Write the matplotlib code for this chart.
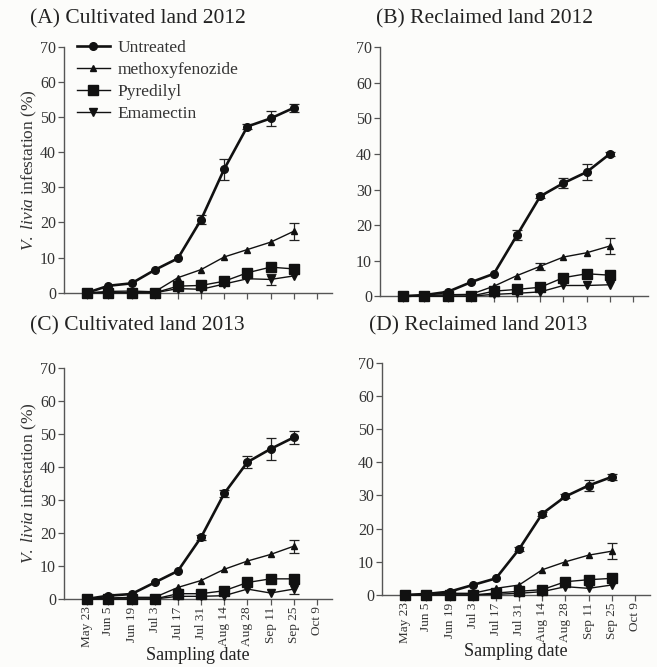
import numpy as np
import matplotlib
matplotlib.use("Agg")
import matplotlib.pyplot as plt

plt.rcParams['font.family'] = ['Liberation Serif', 'DejaVu Serif']
plt.rcParams['mathtext.fontset'] = 'custom'
plt.rcParams['mathtext.it'] = 'Liberation Serif:italic'
plt.rcParams['mathtext.rm'] = 'Liberation Serif'

# sampling days counted from May 23
days = [0, 13, 27, 41, 55, 69, 83, 97, 111, 125]
tick_days = [0, 13, 27, 41, 55, 69, 83, 97, 111, 125, 139]
tick_names = ["May 23", "Jun 5", "Jun 19", "Jul 3", "Jul 17", "Jul 31",
              "Aug 14", "Aug 28", "Sep 11", "Sep 25", "Oct 9"]

titles = ["(A) Cultivated land 2012", "(B) Reclaimed land 2012",
          "(C) Cultivated land 2013", "(D) Reclaimed land 2013"]

# infestation (%) per panel
untreated = [
    [0, 2.0, 2.7, 6.5, 9.8, 20.8, 35.2, 47.3, 49.6, 52.6],
    [0, 0.3, 1.2, 3.9, 6.3, 17.2, 28.1, 31.8, 34.9, 40.0],
    [0, 1.0, 1.5, 5.0, 8.5, 18.7, 32.0, 41.5, 45.5, 49.0],
    [0, 0.3, 1.0, 3.0, 5.0, 13.8, 24.5, 29.7, 33.0, 35.6],
]
untreated_err = [
    [0, 0, 0, 0, 0, 1.2, 3.0, 0.6, 2.2, 1.2],
    [0, 0, 0, 0, 0, 1.5, 0.6, 1.5, 2.3, 0.6],
    [0, 0, 0, 0, 0, 0.8, 1.2, 1.8, 3.2, 2.0],
    [0, 0, 0, 0, 0, 0.6, 0.6, 0.6, 1.6, 1.0],
]
methoxy = [
    [0, 0.4, 0.5, 0.3, 4.3, 6.6, 10.2, 12.3, 14.4, 17.5],
    [0, 0.2, 0.4, 0.5, 2.8, 5.8, 8.4, 11.0, 12.2, 14.1],
    [0, 0.3, 0.5, 0.5, 3.5, 5.6, 9.0, 11.5, 13.5, 16.0],
    [0, 0.1, 0.5, 0.5, 2.0, 3.0, 7.6, 10.0, 12.0, 13.2],
]
methoxy_err = [
    [0, 0, 0, 0, 0, 0, 0, 0, 0, 2.4],
    [0, 0, 0, 0, 0, 0, 1.0, 0, 0, 2.3],
    [0, 0, 0, 0, 0, 0, 0, 0, 0, 2.0],
    [0, 0, 0, 0, 0, 0, 0, 0, 0, 2.5],
]
pyredilyl = [
    [0, 0, 0, 0, 1.9, 2.1, 3.3, 5.7, 7.3, 6.8],
    [0, 0, 0, 0, 1.4, 1.9, 2.5, 5.2, 6.3, 5.9],
    [0, 0, 0, 0, 1.6, 1.6, 2.5, 5.0, 6.1, 6.1],
    [0, 0, 0, 0, 0.6, 1.1, 1.6, 4.0, 4.6, 5.0],
]
emamectin = [
    [0, 0, 0, 0, 1.2, 1.0, 2.5, 4.0, 3.8, 4.8],
    [0, 0, 0, 0, 0.5, 0.8, 1.2, 3.0, 3.0, 3.2],
    [0, 0, 0, 0, 0.8, 0.8, 1.0, 3.0, 1.8, 3.0],
    [0, 0, 0, 0, 0.2, 0.5, 1.0, 2.5, 2.0, 3.0],
]
emamectin_err = [
    [0, 0, 0, 0, 0, 0, 0, 0, 1.5, 0],
    [0, 0, 0, 0, 0, 0, 0, 0, 0, 0],
    [0, 0, 0, 0, 0, 0, 0, 0, 0, 1.5],
    [0, 0, 0, 0, 0, 0, 0, 0, 0, 0],
]

fig = plt.figure(figsize=(6.57, 6.67), dpi=100)
fig.patch.set_facecolor('#fcfcfa')

boxes = [
    [0.097, 0.561, 0.408, 0.369],
    [0.578, 0.556, 0.408, 0.373],
    [0.097, 0.102, 0.408, 0.346],
    [0.581, 0.108, 0.408, 0.348],
]
title_pos = [(0.045, 0.972), (0.573, 0.972), (0.045, 0.512), (0.562, 0.512)]


def bars(ax, y, err, cap):
    idx = [i for i in range(len(err)) if err[i] > 0]
    if idx:
        ax.errorbar([days[i] for i in idx], [y[i] for i in idx],
                    yerr=[err[i] for i in idx], fmt='none', ecolor='#222222',
                    elinewidth=0.9, capsize=cap, capthick=0.9, clip_on=False,
                    zorder=2)


for k in range(4):
    ax = fig.add_axes(boxes[k])
    ax.set_facecolor('none')
    ax.plot(days, untreated[k], '-o', color='#111111', lw=1.9, ms=5.5,
            label='Untreated', clip_on=False, zorder=4)
    bars(ax, untreated[k], untreated_err[k], 3.5)
    ax.plot(days, methoxy[k], '-^', color='#111111', lw=1.0, ms=5,
            label='methoxyfenozide', clip_on=False, zorder=3)
    bars(ax, methoxy[k], methoxy_err[k], 3.5)
    ax.plot(days, pyredilyl[k], '-s', color='#111111', lw=1.0, ms=7.5,
            label='Pyredilyl', clip_on=False, zorder=3)
    ax.plot(days, emamectin[k], '-v', color='#111111', lw=1.0, ms=5.5,
            label='Emamectin', clip_on=False, zorder=3)
    bars(ax, emamectin[k], emamectin_err[k], 3.5)

    ax.set_xlim(-14, 148)
    ax.set_ylim(0, 70)
    ax.set_yticks(range(0, 71, 10))
    ax.set_xticks(tick_days)
    ax.spines['top'].set_visible(False)
    ax.spines['right'].set_visible(False)
    for s in ['left', 'bottom']:
        ax.spines[s].set_color('#555555')
        ax.spines[s].set_linewidth(1.0)
    ax.tick_params(direction='out', length=4, width=0.9, color='#555555',
                   labelsize=11.5, labelcolor='#333333', pad=1.5)
    if k >= 2:
        ax.set_xticklabels(tick_names, rotation=90, fontsize=9.5)
        ax.set_xlabel('Sampling date', fontsize=13, color='#222222', labelpad=0)
    else:
        ax.set_xticklabels([])
    if k % 2 == 0:
        ax.set_ylabel(r'$\mathit{V.\ livia}$ infestation (%)', fontsize=12.5,
                      color='#333333', labelpad=1)
    fig.text(title_pos[k][0], title_pos[k][1], titles[k], fontsize=15.5,
             color='#222222', va='center', ha='left')
    if k == 0:
        ax.legend(loc='upper left', bbox_to_anchor=(-0.01, 1.09), frameon=False,
                  fontsize=12.5, handlelength=1.9, labelspacing=0.33,
                  handletextpad=0.45, labelcolor='#333333')

fig.savefig('out.png', dpi=100, facecolor=fig.get_facecolor())
